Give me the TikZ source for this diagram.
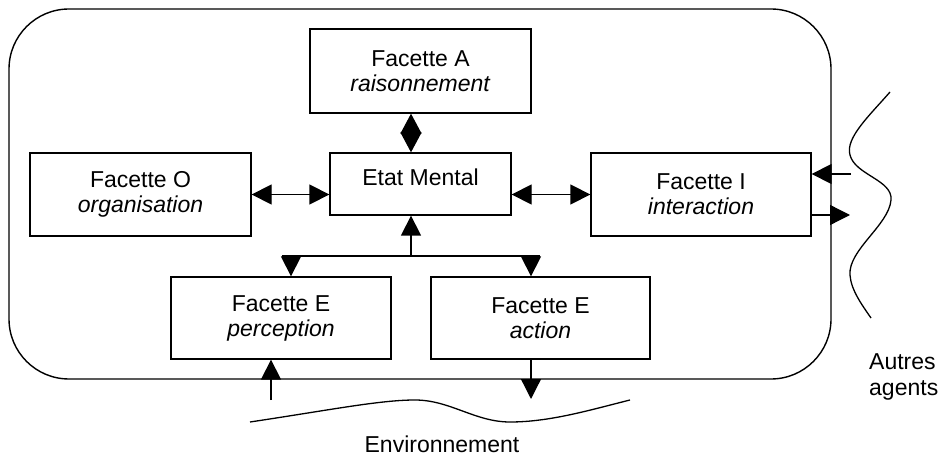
\documentclass[tikz,border=0pt]{standalone}
\usepackage{fontspec}
\setmainfont{Liberation Sans}
\usetikzlibrary{arrows.meta}
\begin{document}
\begin{tikzpicture}[x=1pt,y=-1pt,
  box/.style={draw, line width=1.3pt, inner sep=0pt, align=center,
    font=\fontsize{23}{25}\selectfont},
  lbl/.style={inner sep=0pt, font=\fontsize{23}{26}\selectfont},
  arr/.style={line width=1.3pt, -{Triangle[length=20pt,width=20pt]}},
  darr/.style={line width=1.3pt, {Triangle[length=20pt,width=20pt]}-{Triangle[length=20pt,width=20pt]}},
  dia/.style={line width=1.3pt, {Triangle[length=20pt,width=21pt]}-{Triangle[length=20pt,width=21pt]}},
  wave/.style={line width=1.3pt}]
\useasboundingbox (0,0) rectangle (943,457);

% agent envelope
\node[draw, line width=1.4pt, rounded corners=60pt, minimum width=822pt, minimum height=370pt] (agent) at (420,194) {};

% facets
\node[box, minimum width=221pt, minimum height=84pt] (A) at (420.5,71) {Facette A\\\textit{raisonnement}};
\node[box, minimum width=181pt, minimum height=62pt, text depth=13pt] (EM) at (420.5,184) {Etat Mental};
\node[box, minimum width=221pt, minimum height=83pt] (O) at (140.5,194.5) {Facette O\\\textit{organisation}};
\node[box, minimum width=220pt, minimum height=83pt] (I) at (701,194.5) {Facette I\\\textit{interaction}};
\node[box, minimum width=220pt, minimum height=82pt] (Ep) at (281,318) {Facette E\\\textit{perception}};
\node[box, minimum width=219pt, minimum height=82pt] (Ea) at (540.5,318) {Facette E\\\textit{action}};

% helper coordinates
\coordinate (vx) at (411,0);
\coordinate (J) at (411,256);
\coordinate (Tl) at (282,256);
\coordinate (Tr) at (540,256);
\coordinate (dl) at (291,256);
\coordinate (dr) at (531,256);
\coordinate (pin) at (271,400);
\coordinate (aout) at (531,399);
\coordinate (iin) at (851,174);
\coordinate (iout) at (850,215);

% connectors
\draw[dia] (vx |- A.south) -- (vx |- EM.north);
\draw[darr] (O.east) -- (O.east -| EM.west);
\draw[darr] (I.west -| EM.east) -- (I.west);
\draw[arr] (J) -- (vx |- EM.south);
\draw[line width=1.3pt] (Tl) -- (Tr);
\draw[arr] (dl) -- (dl |- Ep.north);
\draw[arr] (dr) -- (dr |- Ea.north);
\draw[arr] (pin) -- (pin |- Ep.south);
\draw[arr] (aout |- Ea.south) -- (aout);
\draw[arr] (iin) -- (iin -| I.east);
\draw[arr] (iout -| I.east) -- (iout);

% environment
\draw[wave] (250,422) .. controls (330,410) and (380,400) .. (415,400)
  .. controls (450,400) and (475,422) .. (510,422)
  .. controls (550,422) and (590,410) .. (630,400);
\node[lbl, anchor=base] (env) at (442,452) {Environnement};

% other agents
\draw[wave] (890,92) .. controls (870,115) and (845,138) .. (850,155)
  .. controls (855,175) and (893,180) .. (891,200)
  .. controls (889,225) and (848,250) .. (850,275)
  .. controls (851,290) and (862,305) .. (871,318);
\node[lbl, anchor=west, align=left] (autres) at (869,377) {Autres\\agents};
\end{tikzpicture}
\end{document}
